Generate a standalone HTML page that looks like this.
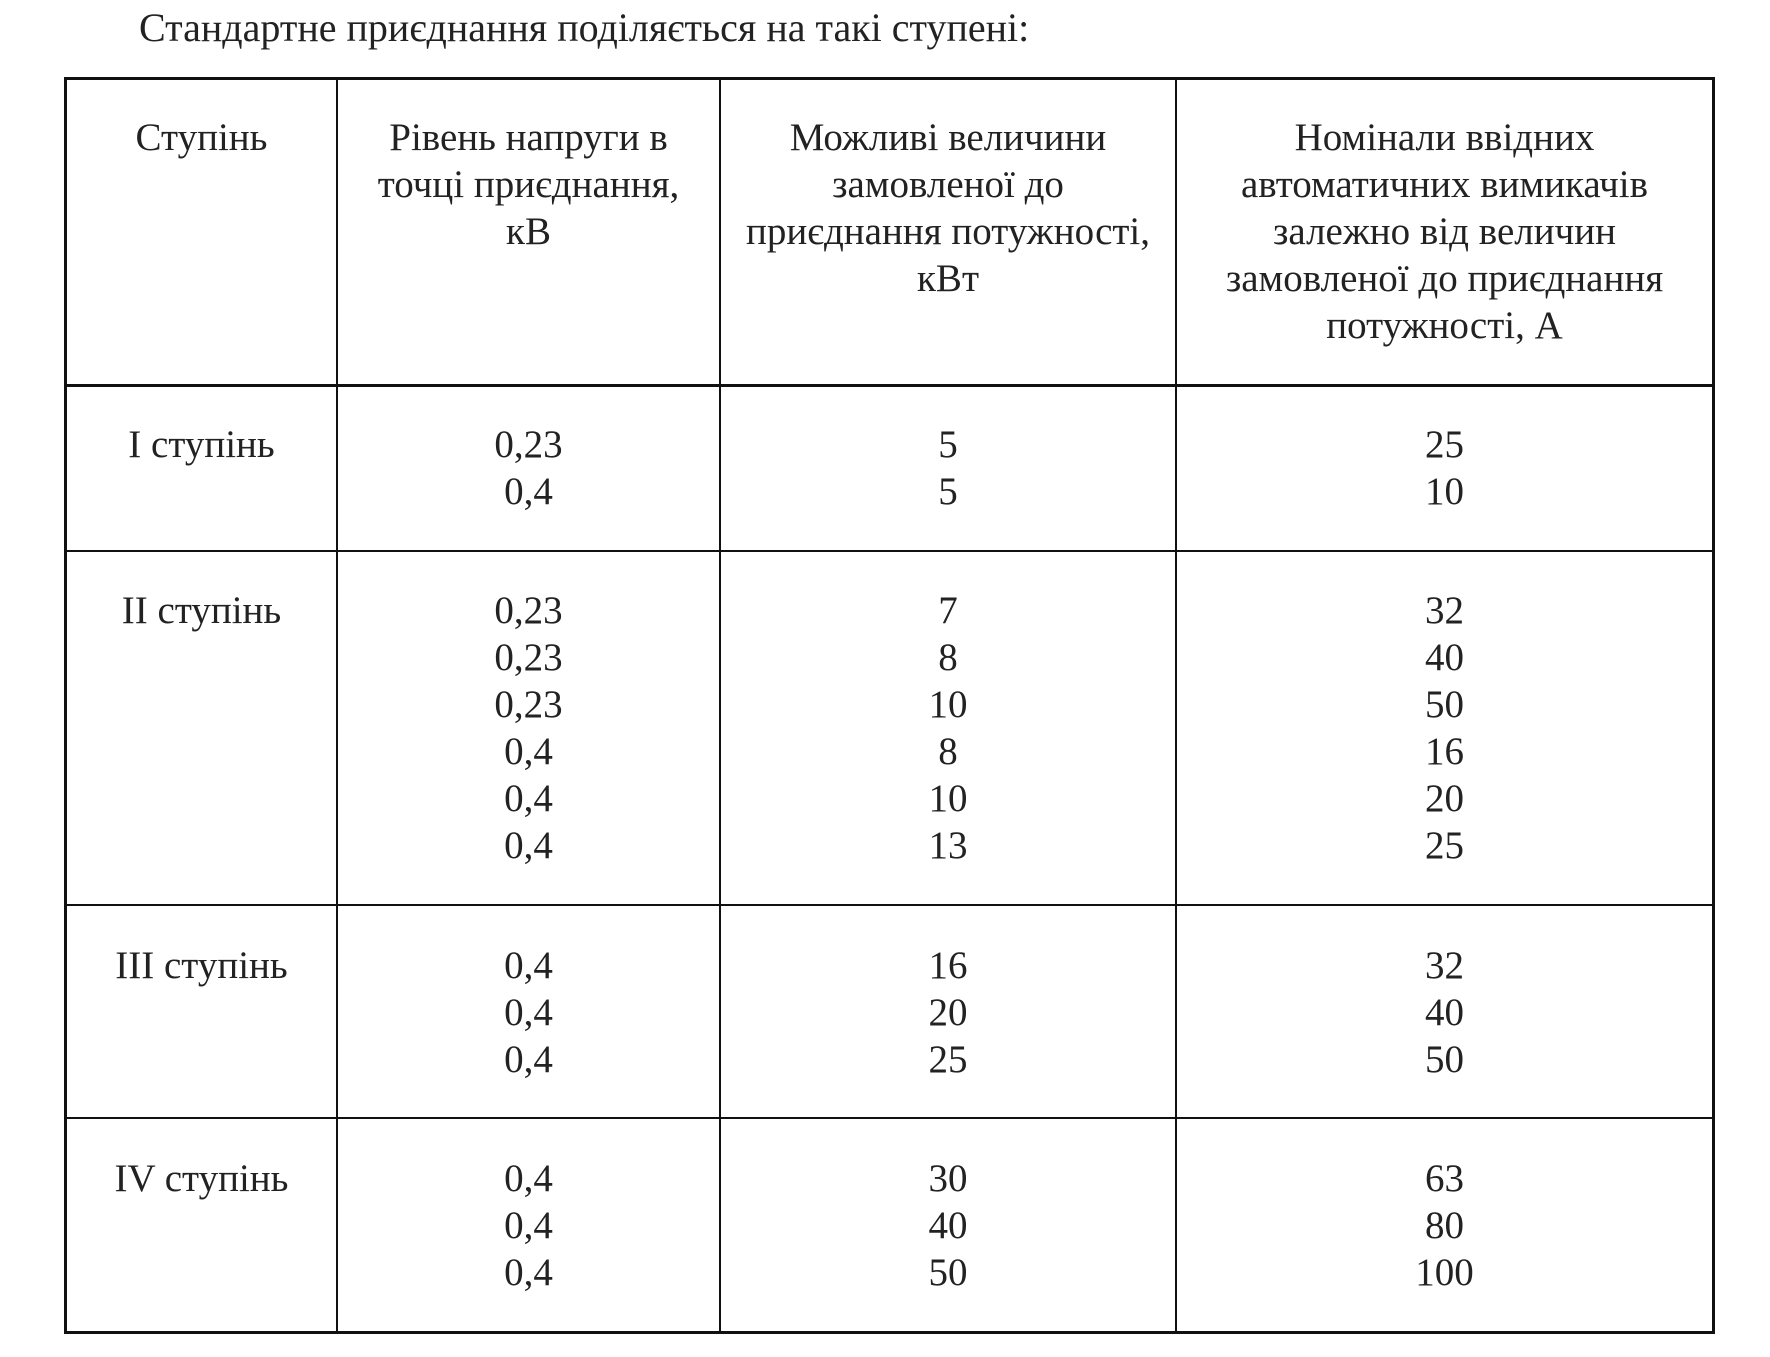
<!DOCTYPE html>
<html><head><meta charset="utf-8"><style>
body{margin:0;width:1770px;height:1357px;background:#fff;position:relative;font-family:"Liberation Serif",serif;color:#222;overflow:hidden}
.t{position:absolute;font-size:39px;line-height:47px;text-align:center;white-space:nowrap}
.h{position:absolute;background:#111}
</style></head><body>
<div class="t" style="left:139px;top:4px;text-align:left;font-size:40px">Стандартне приєднання поділяється на такі ступені:</div>
<div class="h" style="left:64px;top:77px;width:1651px;height:3px"></div>
<div class="h" style="left:64px;top:384px;width:1651px;height:3px"></div>
<div class="h" style="left:64px;top:550px;width:1651px;height:2px"></div>
<div class="h" style="left:64px;top:904px;width:1651px;height:2px"></div>
<div class="h" style="left:64px;top:1117px;width:1651px;height:2px"></div>
<div class="h" style="left:64px;top:1331px;width:1651px;height:3px"></div>
<div class="h" style="left:64px;top:77px;width:3px;height:1257px"></div>
<div class="h" style="left:336px;top:77px;width:2px;height:1257px"></div>
<div class="h" style="left:719px;top:77px;width:2px;height:1257px"></div>
<div class="h" style="left:1175px;top:77px;width:2px;height:1257px"></div>
<div class="h" style="left:1712px;top:77px;width:3px;height:1257px"></div>

<div class="t" style="left:67px;width:269px;top:114px">Ступінь</div>
<div class="t" style="left:338px;width:381px;top:114px">Рівень напруги в<br>точці приєднання,<br>кВ</div>
<div class="t" style="left:721px;width:454px;top:114px">Можливі величини<br>замовленої до<br>приєднання потужності,<br>кВт</div>
<div class="t" style="left:1177px;width:535px;top:114px">Номінали ввідних<br>автоматичних вимикачів<br>залежно від величин<br>замовленої до приєднання<br>потужності, А</div>

<div class="t" style="left:67px;width:269px;top:421px">І ступінь</div>
<div class="t" style="left:338px;width:381px;top:421px">0,23<br>0,4</div>
<div class="t" style="left:721px;width:454px;top:421px">5<br>5</div>
<div class="t" style="left:1177px;width:535px;top:421px">25<br>10</div>

<div class="t" style="left:67px;width:269px;top:587px">ІІ ступінь</div>
<div class="t" style="left:338px;width:381px;top:587px">0,23<br>0,23<br>0,23<br>0,4<br>0,4<br>0,4</div>
<div class="t" style="left:721px;width:454px;top:587px">7<br>8<br>10<br>8<br>10<br>13</div>
<div class="t" style="left:1177px;width:535px;top:587px">32<br>40<br>50<br>16<br>20<br>25</div>

<div class="t" style="left:67px;width:269px;top:942px">ІІІ ступінь</div>
<div class="t" style="left:338px;width:381px;top:942px">0,4<br>0,4<br>0,4</div>
<div class="t" style="left:721px;width:454px;top:942px">16<br>20<br>25</div>
<div class="t" style="left:1177px;width:535px;top:942px">32<br>40<br>50</div>

<div class="t" style="left:67px;width:269px;top:1155px">IV ступінь</div>
<div class="t" style="left:338px;width:381px;top:1155px">0,4<br>0,4<br>0,4</div>
<div class="t" style="left:721px;width:454px;top:1155px">30<br>40<br>50</div>
<div class="t" style="left:1177px;width:535px;top:1155px">63<br>80<br>100</div>
</body></html>
